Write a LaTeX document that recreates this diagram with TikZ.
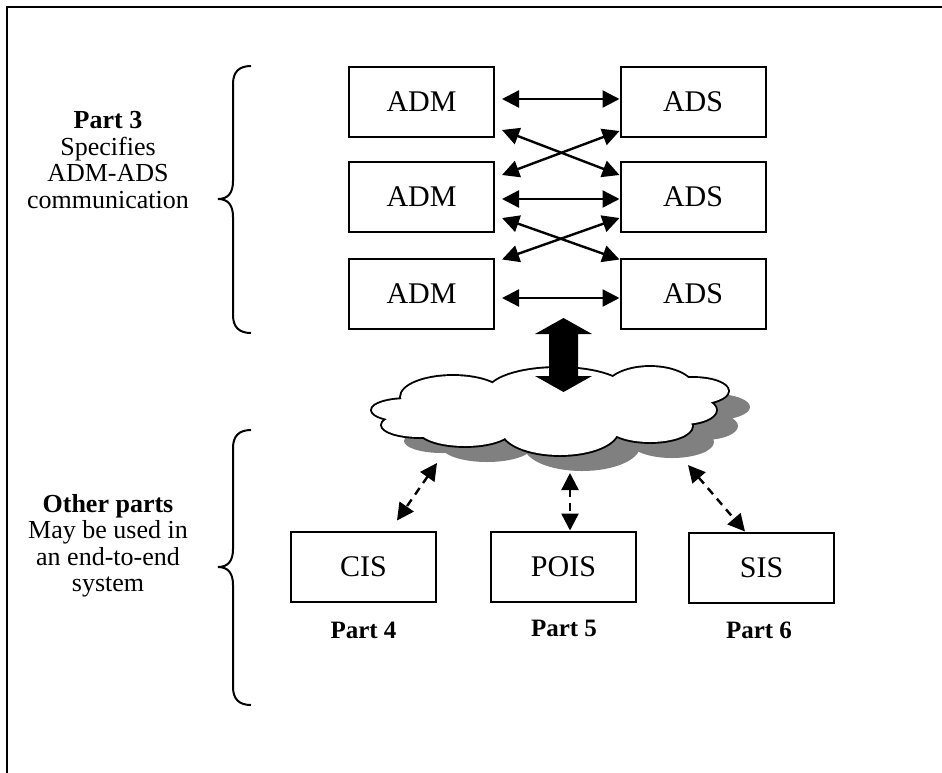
\documentclass[tikz,border=0pt]{standalone}
\usepackage{fontspec}
\setmainfont{Liberation Serif}
\usetikzlibrary{arrows.meta,calc}
\begin{document}
\begin{tikzpicture}[x=1pt,y=-1pt,
  box/.style={draw,line width=2pt,minimum width=145pt,minimum height=70pt,inner sep=0pt,font=\fontsize{30}{32}\selectfont},
  tip/.tip={Triangle[length=17pt,width=17pt]},
  arr/.style={line width=2.4pt,tip-tip},
  darr/.style={arr,dash pattern=on 8pt off 6pt},
  side/.style={align=center,font=\fontsize{26}{26.5}\selectfont},
  partlbl/.style={font=\fontsize{25}{26}\selectfont\bfseries}]
\useasboundingbox (0,0) rectangle (942,772);
% frame
\draw[line width=2.5pt] (7,780) -- (7,7) -- (950,7);

% boxes
\node[box] (adm1) at (421.5,102) {ADM};
\node[box] (adm2) at (421.5,197) {ADM};
\node[box] (adm3) at (421.5,293.5) {ADM};
\node[box] (ads1) at (693,102) {ADS};
\node[box] (ads2) at (693,197) {ADS};
\node[box] (ads3) at (693,293.5) {ADS};

% horizontal arrows
\draw[arr] ($(adm1.east)+(7,-3)$) -- ($(ads1.west)+(0,-3)$);
\draw[arr] ($(adm2.east)+(7,2)$) -- ($(ads2.west)+(0,2)$);
\draw[arr] ($(adm3.east)+(7,4.5)$) -- ($(ads3.west)+(0,4.5)$);
% crossing arrows
\draw[arr] ($(adm1.south east)+(7,-8)$) -- ($(ads2.north west)+(0,14)$);
\draw[arr] ($(ads1.south west)+(0,-7)$) -- ($(adm2.north east)+(7,14)$);
\draw[arr] ($(adm2.south east)+(7,-15)$) -- ($(ads3.north west)+(0,2)$);
\draw[arr] ($(ads2.south west)+(0,-15)$) -- ($(adm3.north east)+(7,2)$);

% cloud
\def\lobes{
  (408,410) ellipse [x radius=36, y radius=11]
  (420,425) ellipse [x radius=38, y radius=12]
  (465,430) ellipse [x radius=46, y radius=16]
  (560,430) ellipse [x radius=58, y radius=25]
  (650,426) ellipse [x radius=42, y radius=16]
  (682,410) ellipse [x radius=34, y radius=14]
  (693,391) ellipse [x radius=35, y radius=13]
  (650,389) ellipse [x radius=44, y radius=22]
  (558,392) ellipse [x radius=70, y radius=24]
  (453,397) ellipse [x radius=52, y radius=21]
  (550,410) ellipse [x radius=150, y radius=22]}
\begin{scope}[shift={(22,16)}]
  \fill[black!50] \lobes;
\end{scope}
\draw[line width=3.8pt] \lobes;
\fill[white] \lobes;

% big double arrow
\fill (563.5,318) -- (592,334) -- (578,334) -- (578,376) -- (592,376) -- (563.5,392)
  -- (535,376) -- (549,376) -- (549,334) -- (535,334) -- cycle;

\coordinate (c4) at (437,463);
\coordinate (c5) at (570,473);
\coordinate (c6) at (688,465);

% lower boxes
\node[box] (cis) at (363.5,566.5) {CIS};
\node[box] (pois) at (563.5,566.5) {POIS};
\node[box] (sis) at (761.5,567.5) {SIS};

\draw[darr] (c4) -- ($(cis.north)+(33.5,-10)$);
\draw[darr] (c5) -- ($(pois.north)+(6.5,0)$);
\draw[darr] (c6) -- ($(sis.north)+(-16.5,0)$);

\node[partlbl] (p4) at (363.5,630) {Part 4};
\node[partlbl] (p5) at (564,628) {Part 5};
\node[partlbl] (p6) at (759,630) {Part 6};

% braces
\draw[line width=2pt] (251,66) .. controls (239,66) and (233,72) .. (233,84) -- (233,181)
  .. controls (233,193) and (228,199) .. (218,199) .. controls (228,199) and (233,205) .. (233,217)
  -- (233,315) .. controls (233,327) and (239,333) .. (251,333);
\draw[line width=2pt] (251,430) .. controls (239,430) and (233,436) .. (233,448) -- (233,549)
  .. controls (233,561) and (228,567) .. (218,567) .. controls (228,567) and (233,573) .. (233,585)
  -- (233,687) .. controls (233,699) and (239,705) .. (251,705);

\node[side] (t3) at (108,160) {\textbf{Part 3}\\Specifies\\ADM-ADS\\communication};
\node[side] (to) at (108,546) {\textbf{Other parts}\\May be used in\\an end-to-end\\system};
\end{tikzpicture}
\end{document}
